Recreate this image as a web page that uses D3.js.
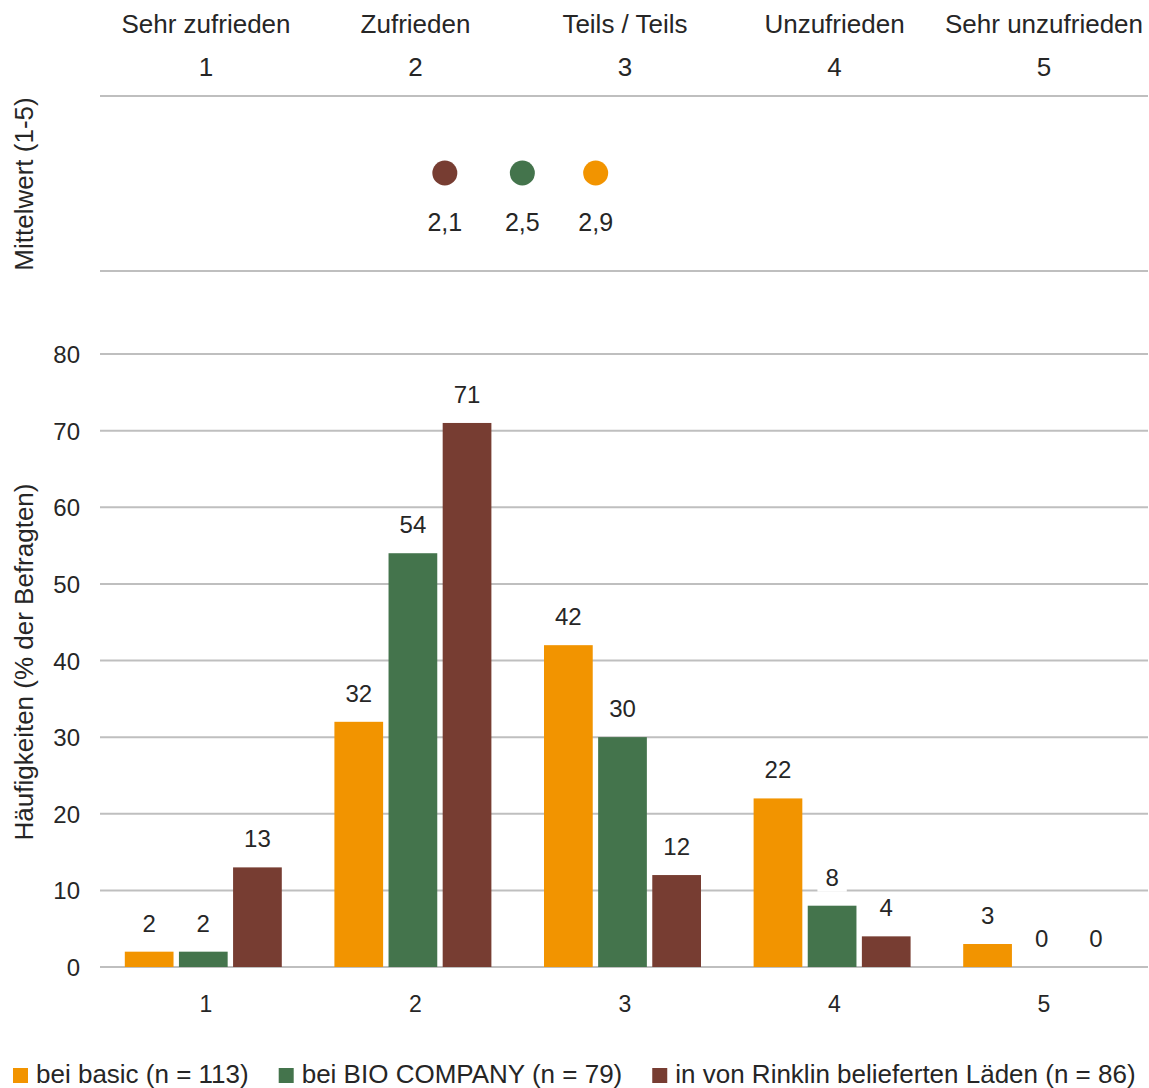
<!DOCTYPE html>
<html>
<head>
<meta charset="utf-8">
<script src="https://cdn.jsdelivr.net/npm/d3@7"></script>
<style>
  html, body { margin: 0; padding: 0; background: #fff; }
  svg { display: block; font-family: "Liberation Sans", Arial, sans-serif; }
</style>
</head>
<body>
<svg id="chart" width="1149" height="1088"></svg>
<script>
// ---- Data ----
const categories = ["1", "2", "3", "4", "5"];
const topLabels = ["Sehr zufrieden", "Zufrieden", "Teils / Teils", "Unzufrieden", "Sehr unzufrieden"];
const seriesNames = ["bei basic (n = 113)", "bei BIO COMPANY (n = 79)", "in von Rinklin belieferten Läden (n = 86)"];
const basicValues = [2, 32, 42, 22, 3];
const bioCompanyValues = [2, 54, 30, 8, 0];
const rinklinValues = [13, 71, 12, 4, 0];
const meanValues = [2.86, 2.51, 2.14]; // basic, BIO COMPANY, Rinklin
const yTicks = [0, 10, 20, 30, 40, 50, 60, 70, 80];
const colors = ["#F29400", "#44744C", "#773D32"];

const seriesValues = [basicValues, bioCompanyValues, rinklinValues];
const textColor = "#262626";
const gridColor = "#BFBFBF";

const svg = d3.select("#chart");

// ---- Scales ----
const plotLeft = 100, plotRight = 1148;
const pIn = 0.251;
const x0 = d3.scaleBand().domain(categories).range([plotLeft - 1.5, plotRight - 1.5])
  .paddingInner(pIn).paddingOuter(pIn / 2);
const x1 = d3.scaleBand().domain(d3.range(seriesNames.length))
  .range([0, x0.bandwidth()]).paddingInner(0.1);
const y = d3.scaleLinear().domain([0, 80]).range([967, 354]);
const xMean = d3.scaleLinear().domain([1, 5]).range([206, 1044]);

// ---- Top section ----
svg.selectAll(".toplabel").data(topLabels).join("text")
  .attr("x", (d, i) => xMean(i + 1))
  .attr("y", 33).attr("text-anchor", "middle")
  .attr("font-size", 26).attr("fill", textColor).text(d => d);

svg.selectAll(".topnum").data(categories).join("text")
  .attr("x", (d, i) => xMean(i + 1))
  .attr("y", 76).attr("text-anchor", "middle")
  .attr("font-size", 26).attr("fill", textColor).text(d => d);

[96, 271].forEach(yy => {
  svg.append("line").attr("x1", plotLeft).attr("x2", plotRight)
    .attr("y1", yy).attr("y2", yy)
    .attr("stroke", gridColor).attr("stroke-width", 2);
});

svg.append("text")
  .attr("transform", "translate(33,184) rotate(-90)")
  .attr("text-anchor", "middle").attr("font-size", 26).attr("fill", textColor)
  .text("Mittelwert (1-5)");

const fmt = v => d3.format(".1f")(v).replace(".", ",");
meanValues.forEach((m, i) => {
  svg.append("circle").attr("cx", xMean(m)).attr("cy", 173).attr("r", 12.5)
    .attr("fill", colors[i]);
  svg.append("text").attr("x", xMean(m)).attr("y", 231)
    .attr("text-anchor", "middle").attr("font-size", 25).attr("fill", textColor)
    .text(fmt(m));
});

// ---- Bar chart ----
const grid = svg.append("g");
grid.selectAll("line").data(yTicks).join("line")
  .attr("x1", plotLeft).attr("x2", plotRight)
  .attr("y1", d => y(d)).attr("y2", d => y(d))
  .attr("stroke", gridColor).attr("stroke-width", 2);

svg.selectAll(".ytick").data(yTicks).join("text")
  .attr("x", 80).attr("y", d => y(d) + 9)
  .attr("text-anchor", "end").attr("font-size", 24).attr("fill", textColor)
  .text(d => d);

svg.append("text")
  .attr("transform", "translate(33,662) rotate(-90)")
  .attr("text-anchor", "middle").attr("font-size", 26).attr("fill", textColor)
  .text("Häufigkeiten (% der Befragten)");

const groups = svg.selectAll(".grp").data(categories).join("g")
  .attr("transform", d => `translate(${x0(d)},0)`);

groups.selectAll("rect").data((c, ci) => seriesValues.map((s, si) => ({ si, v: s[ci] })))
  .join("rect")
  .attr("x", d => x1(d.si)).attr("width", x1.bandwidth())
  .attr("y", d => y(d.v)).attr("height", d => y(0) - y(d.v))
  .attr("fill", d => colors[d.si]);

// value labels with white background
const labelG = svg.append("g");
categories.forEach((c, ci) => {
  seriesValues.forEach((s, si) => {
    const v = s[ci];
    const cx = x0(c) + x1(si) + x1.bandwidth() / 2;
    const by = y(v) - 20;
    const g = labelG.append("g");
    const t = g.append("text").attr("x", cx).attr("y", by)
      .attr("text-anchor", "middle").attr("font-size", 24).attr("fill", textColor)
      .text(v);
    const w = t.node().getComputedTextLength();
    g.insert("rect", "text").attr("x", cx - w / 2 - 8).attr("y", by - 22)
      .attr("width", w + 16).attr("height", 28).attr("fill", "#fff");
  });
});

svg.selectAll(".xtick").data(categories).join("text")
  .attr("x", (d, i) => xMean(i + 1))
  .attr("y", 1012).attr("text-anchor", "middle")
  .attr("font-size", 23).attr("fill", textColor).text(d => d);

// ---- Legend ----
let lx = 13;
seriesNames.forEach((name, i) => {
  svg.append("rect").attr("x", lx).attr("y", 1068).attr("width", 15).attr("height", 15)
    .attr("fill", colors[i]);
  const t = svg.append("text").attr("x", lx + 23).attr("y", 1083)
    .attr("font-size", 26).attr("fill", textColor).text(name);
  lx = lx + 23 + t.node().getComputedTextLength() + 30;
});
</script>
</body>
</html>
